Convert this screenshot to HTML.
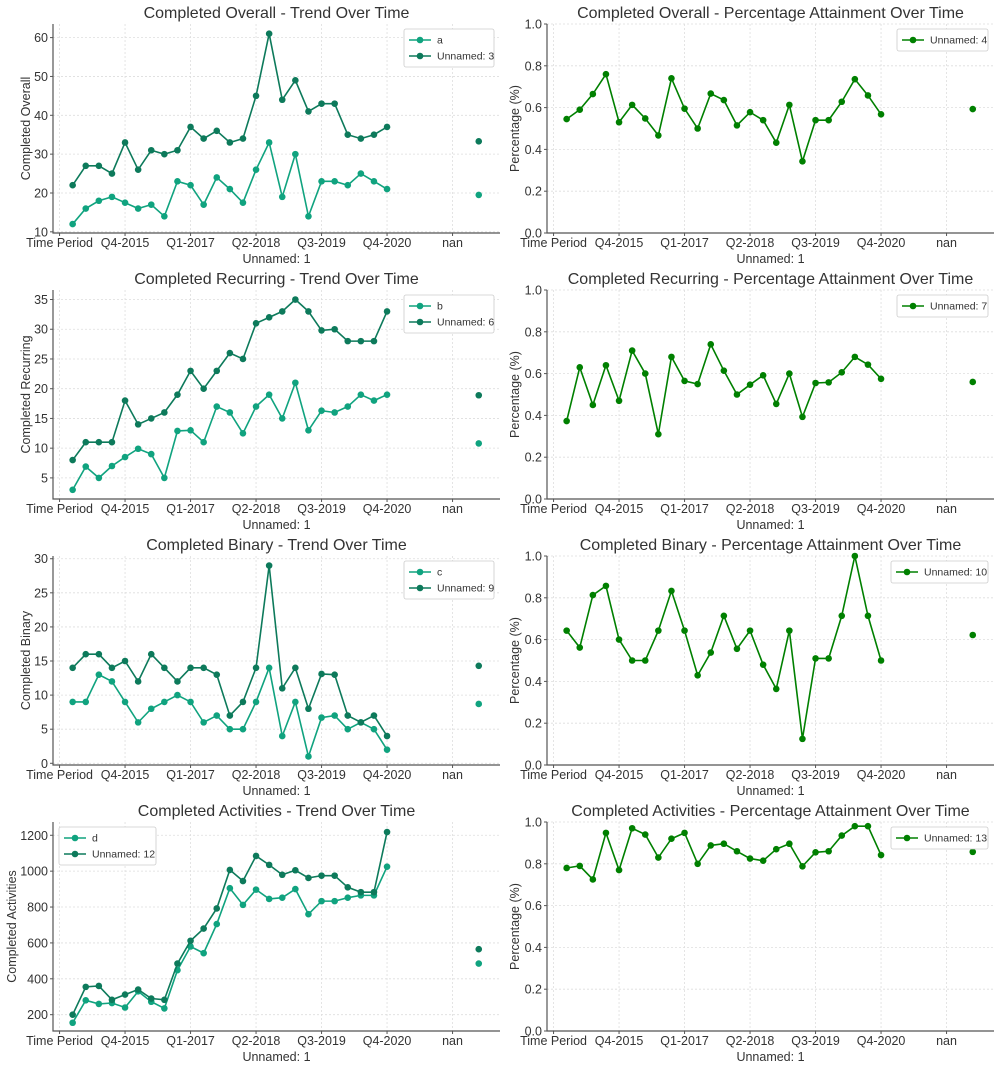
<!DOCTYPE html>
<html><head><meta charset="utf-8">
<style>
html,body{margin:0;padding:0;background:#fff;}
svg{display:block;font-family:"Liberation Sans","DejaVu Sans",sans-serif;}
</style></head>
<body>
<svg id="fig" width="1000" height="1068" viewBox="0 0 1000 1068" xmlns="http://www.w3.org/2000/svg"></svg>
<script>
const xTickLabels = ["Time Period","Q4-2015","Q1-2017","Q2-2018","Q3-2019","Q4-2020","nan"];
const xTickIdx = [0,5,10,15,20,25,30];
const loneIdx = 32;

const overallA = [12,16,18,19,17.5,16,17,14,23,22,17,24,21,17.5,26,33,19,30,14,23,23,22,25,23,21];
const overallU3 = [22,27,27,25,33,26,31,30,31,37,34,36,33,34,45,61,44,49,41,43,43,35,34,35,37];
const overallLone = [19.5,33.3];
const overallPct = [.545,.59,.665,.76,.53,.613,.548,.467,.74,.595,.5,.667,.636,.515,.578,.54,.432,.613,.343,.54,.54,.628,.736,.658,.568];
const overallPctLone = .593;

const recurB = [3,6.9,5,7,8.5,9.9,9,5,12.9,13,11,17,16,12.5,17,19,15,21,13,16.3,16,17,19,18,19];
const recurU6 = [8,11,11,11,18,14,15,16,19,23,20,23,26,25,31,32,33,35,33,29.8,30,28,28,28,33];
const recurLone = [10.8,18.9];
const recurPct = [.373,.63,.45,.64,.47,.71,.6,.31,.68,.565,.55,.74,.614,.5,.547,.592,.455,.6,.393,.555,.558,.606,.68,.643,.575];
const recurPctLone = .56;

const binC = [9,9,13,12,9,6,8,9,10,9,6,7,5,5,9,14,4,9,1,6.7,7,5,6,5,2];
const binU9 = [14,16,16,14,15,12,16,14,12,14,14,13,7,9,14,29,11,14,8,13.1,13,7,6,7,4];
const binLone = [8.7,14.3];
const binPct = [.643,.562,.813,.857,.6,.5,.5,.643,.833,.643,.429,.538,.714,.556,.643,.48,.364,.643,.125,.51,.51,.714,1.0,.714,.5];
const binPctLone = .622;

const actD = [155,280,260,265,240,330,272,235,448,580,543,705,905,812,897,845,852,900,760,833,833,852,865,865,1025];
const actU12 = [200,355,360,283,312,340,290,283,485,612,680,792,1007,945,1085,1035,980,1005,962,975,975,910,883,883,1218];
const actLone = [485,565];
const actPct = [.78,.79,.725,.948,.77,.97,.94,.83,.92,.948,.8,.888,.896,.86,.825,.815,.87,.896,.788,.855,.86,.935,.98,.98,.842];
const actPctLone = .857;

const yTicksOverall = [10,20,30,40,50,60];
const yTicksRecur = [5,10,15,20,25,30,35];
const yTicksBin = [0,5,10,15,20,25,30];
const yTicksAct = [200,400,600,800,1000,1200];
const yTicksPct = [0,0.2,0.4,0.6,0.8,1.0];

const NS="http://www.w3.org/2000/svg";
const svg=document.getElementById('fig');
const C1="#10a37f", C2="#0d7a5b", CG="#008000", TXT="#333";
function mk(tag,attrs,parent){const e=document.createElementNS(NS,tag);for(const k in attrs)e.setAttribute(k,attrs[k]);(parent||svg).appendChild(e);return e;}

function panel(o){
  const g=mk('g',{});
  
  
  const L=o.left, R=o.left+447, T=o.top, B=o.top+209;
  const xs=i=>L+(i+0.5)*13.1;
  const ys=v=>B-(v-o.ymin)/(o.ymax-o.ymin)*(B-T);
  xTickIdx.forEach(i=>{const l=mk('line',{x1:xs(i),x2:xs(i),y1:T,y2:B,stroke:'#ddd','stroke-width':0.8,'stroke-dasharray':'2,2'},g);
    });
  o.yticks.forEach(v=>{const l=mk('line',{x1:L,x2:R,y1:ys(v),y2:ys(v),stroke:'#ddd','stroke-width':0.8,'stroke-dasharray':'2,2'},g);
    });
  const sp=mk('path',{d:`M${L},${T} L${L},${B} L${R},${B}`,fill:'none',stroke:'#555','stroke-width':1.2},g);
  
  xTickIdx.forEach((i,k)=>{
    mk('line',{x1:xs(i),x2:xs(i),y1:B,y2:B+3,stroke:'#555'},g);
    const t=mk('text',{x:xs(i),y:B+14,'text-anchor':'middle','font-size':12.5,fill:TXT},g);t.textContent=xTickLabels[k];
    
  });
  o.yticks.forEach(v=>{
    mk('line',{x1:L-3,x2:L,y1:ys(v),y2:ys(v),stroke:'#555'},g);
    const t=mk('text',{x:L-5,y:ys(v)+4.5,'text-anchor':'end','font-size':12.5,fill:TXT},g);t.textContent=o.fmt(v);
    
  });
  const xl=mk('text',{x:(L+R)/2,y:B+30,'text-anchor':'middle','font-size':12.5,fill:TXT},g);xl.textContent='Unnamed: 1';
  
  const yx=o.ylabx, yy=(T+B)/2;
  const yl=mk('text',{x:yx,y:yy,'text-anchor':'middle','font-size':12.5,fill:TXT,transform:`rotate(-90 ${yx} ${yy})`},g);yl.textContent=o.ylabel;
  
  const ti=mk('text',{x:(L+R)/2,y:T-6,'text-anchor':'middle','font-size':16,fill:TXT},g);ti.textContent=o.title;
  
  o.series.forEach(s=>{
    const pts=s.data.map((v,i)=>[xs(i+1),ys(v)]);
    const pl=mk('polyline',{points:pts.map(p=>p.join(',')).join(' '),fill:'none',stroke:s.color,'stroke-width':1.6},g);
    
    pts.forEach(p=>{const c=mk('circle',{cx:p[0],cy:p[1],r:3.3,fill:s.color},g);
      });
    const lc=mk('circle',{cx:xs(loneIdx),cy:ys(s.lone),r:3.3,fill:s.color},g);
    
  });
  const lg=mk('g',{},g);
  
  const lw=o.legW, lh=o.series.length*16+6;
  const lx=o.legLeft?L+6:R-6-lw, ly=T+5;
  mk('rect',{x:lx,y:ly,width:lw,height:lh,rx:2,fill:'#fff',stroke:'#ccc','stroke-width':0.8},lg);
  o.series.forEach((s,k)=>{
    const cy=ly+11+k*16;
    mk('line',{x1:lx+5,x2:lx+27,y1:cy,y2:cy,stroke:s.color,'stroke-width':1.6},lg);
    mk('circle',{cx:lx+16,cy:cy,r:3.3,fill:s.color},lg);
    const t=mk('text',{x:lx+33,y:cy+3.5,'font-size':10.5,fill:TXT},lg);t.textContent=s.label;
    
  });
}
const fInt=v=>String(v), fPct=v=>v.toFixed(1);
const tops=[24,290,556,822];
const leftDefs=[
 {title:'Completed Overall - Trend Over Time',ylabel:'Completed Overall',ymin:9.7,ymax:63.5,yticks:yTicksOverall,ylabx:30,
  series:[{key:'a',label:'a',data:overallA,lone:overallLone[0],color:C1},{key:'unnamed-3',label:'Unnamed: 3',data:overallU3,lone:overallLone[1],color:C2}],legW:90},
 {title:'Completed Recurring - Trend Over Time',ylabel:'Completed Recurring',ymin:1.45,ymax:36.6,yticks:yTicksRecur,ylabx:30,
  series:[{key:'b',label:'b',data:recurB,lone:recurLone[0],color:C1},{key:'unnamed-6',label:'Unnamed: 6',data:recurU6,lone:recurLone[1],color:C2}],legW:90},
 {title:'Completed Binary - Trend Over Time',ylabel:'Completed Binary',ymin:-0.25,ymax:30.4,yticks:yTicksBin,ylabx:30,
  series:[{key:'c',label:'c',data:binC,lone:binLone[0],color:C1},{key:'unnamed-9',label:'Unnamed: 9',data:binU9,lone:binLone[1],color:C2}],legW:90},
 {title:'Completed Activities - Trend Over Time',ylabel:'Completed Activities',ymin:109,ymax:1274,yticks:yTicksAct,legLeft:true,ylabx:16,
  series:[{key:'d',label:'d',data:actD,lone:actLone[0],color:C1},{key:'unnamed-12',label:'Unnamed: 12',data:actU12,lone:actLone[1],color:C2}],legW:97}
];
const rightDefs=[
 {title:'Completed Overall - Percentage Attainment Over Time',data:overallPct,lone:overallPctLone,label:'Unnamed: 4',w:91},
 {title:'Completed Recurring - Percentage Attainment Over Time',data:recurPct,lone:recurPctLone,label:'Unnamed: 7',w:91},
 {title:'Completed Binary - Percentage Attainment Over Time',data:binPct,lone:binPctLone,label:'Unnamed: 10',w:97},
 {title:'Completed Activities - Percentage Attainment Over Time',data:actPct,lone:actPctLone,label:'Unnamed: 13',w:97}
];
leftDefs.forEach((d,k)=>panel(Object.assign({name:'trend-chart-'+(k+1),left:53,top:tops[k],fmt:fInt},d)));
rightDefs.forEach((d,k)=>panel({name:'percentage-chart-'+(k+1),left:547,top:tops[k],fmt:fPct,ylabx:519,title:d.title,ylabel:'Percentage (%)',
  ymin:0,ymax:1,yticks:yTicksPct,legW:d.w,series:[{key:'pct',label:d.label,data:d.data,lone:d.lone,color:CG}]}));
</script>
</body></html>
